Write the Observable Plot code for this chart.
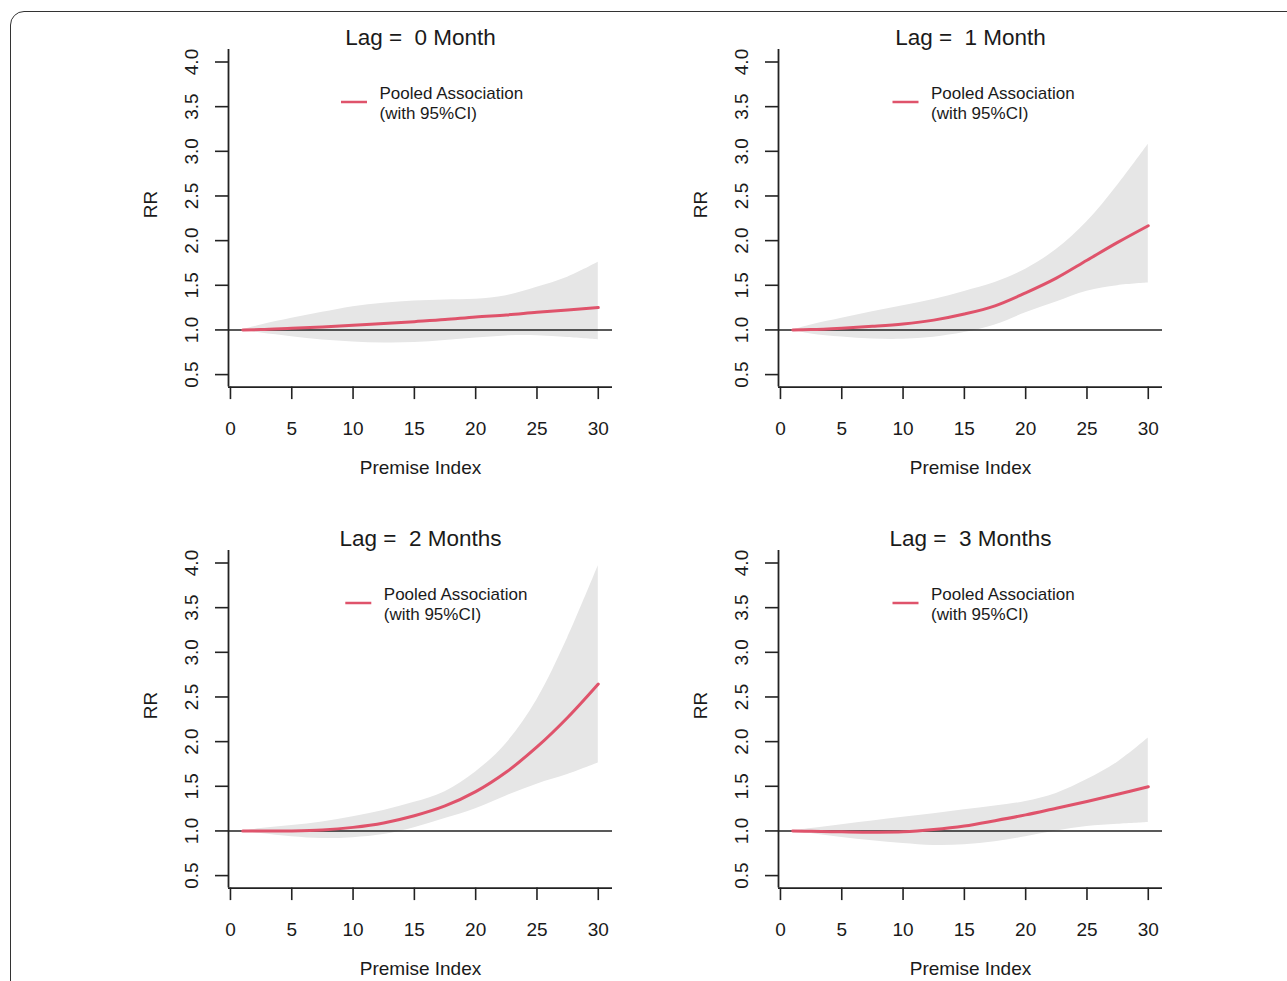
<!DOCTYPE html>
<html><head><meta charset="utf-8">
<script src="https://cdn.jsdelivr.net/npm/d3@7"></script>
<script src="https://cdn.jsdelivr.net/npm/@observablehq/plot@0.6"></script>
<style>
html,body{margin:0;padding:0;background:#fff;overflow:hidden;width:1287px;height:981px;}
#frame{position:absolute;left:10px;top:11px;width:1400px;height:1100px;border:1.3px solid #333;border-radius:14px;box-sizing:border-box;}
.panel{position:absolute;}
.panel svg text{white-space:pre;}
</style></head><body>
<div id="frame"></div>
<div id="root"></div>
<script>
// ---- data ----
const premiseIndex = [1, 2.5, 5, 7.5, 10, 12.5, 15, 17.5, 20, 22.5, 25, 27.5, 30];
const panelTitles = ["Lag =  0 Month", "Lag =  1 Month", "Lag =  2 Months", "Lag =  3 Months"];

const rrLag0    = [1.0, 1.004, 1.019, 1.034, 1.052, 1.071, 1.093, 1.116, 1.146, 1.168, 1.198, 1.224, 1.25];
const lowerLag0 = [1.0, 0.966, 0.925, 0.888, 0.866, 0.854, 0.858, 0.881, 0.910, 0.933, 0.935, 0.914, 0.888];
const upperLag0 = [1.0, 1.056, 1.131, 1.198, 1.261, 1.299, 1.325, 1.336, 1.343, 1.384, 1.478, 1.59, 1.757];

const rrLag1    = [1.0, 1.004, 1.02, 1.04, 1.066, 1.11, 1.178, 1.27, 1.415, 1.58, 1.78, 1.98, 2.167];
const lowerLag1 = [1.0, 0.955, 0.92, 0.898, 0.895, 0.919, 0.97, 1.054, 1.192, 1.314, 1.434, 1.496, 1.525];
const upperLag1 = [1.0, 1.056, 1.13, 1.204, 1.27, 1.34, 1.43, 1.53, 1.68, 1.9, 2.21, 2.62, 3.08];

const rrLag2    = [1.0, 1.0, 1.0, 1.01, 1.04, 1.09, 1.17, 1.28, 1.44, 1.66, 1.94, 2.27, 2.645];
const lowerLag2 = [1.0, 0.97, 0.935, 0.915, 0.925, 0.96, 1.037, 1.138, 1.249, 1.392, 1.524, 1.631, 1.76];
const upperLag2 = [1.0, 1.026, 1.06, 1.1, 1.16, 1.23, 1.32, 1.44, 1.66, 1.98, 2.47, 3.16, 3.97];

const rrLag3    = [1.0, 0.996, 0.99, 0.986, 0.99, 1.015, 1.055, 1.115, 1.18, 1.255, 1.33, 1.41, 1.495];
const lowerLag3 = [1.0, 0.97, 0.926, 0.889, 0.859, 0.837, 0.844, 0.878, 0.935, 1.0, 1.05, 1.075, 1.095];
const upperLag3 = [1.0, 1.026, 1.07, 1.111, 1.152, 1.193, 1.237, 1.278, 1.33, 1.42, 1.575, 1.77, 2.04];

const xTicks = [0, 5, 10, 15, 20, 25, 30];
const yTicks = [0.5, 1.0, 1.5, 2.0, 2.5, 3.0, 3.5, 4.0];
const xLabel = "Premise Index";
const yLabel = "RR";
const legendLabel = "Pooled Association\n(with 95%CI)";
const referenceRR = 1;

// ---- layout ----
const rrSeries = [rrLag0, rrLag1, rrLag2, rrLag3];
const lowerSeries = [lowerLag0, lowerLag1, lowerLag2, lowerLag3];
const upperSeries = [upperLag0, upperLag1, upperLag2, upperLag3];
const plotOrigins = [[228, 49.2], [777.5, 49.2], [228, 549.8], [777.5, 549.8]];
const legendTextDx = [151, 152.5, 155.3, 152.5];

const W = 520, H = 480, ML = 100, MT = 40, PW = 384, PH = 337.6;
const MR = W - ML - PW, MB = H - MT - PH;
const xDomain = [-0.16, 31.16], yDomain = [0.36, 4.14];
const kx = PW / (xDomain[1] - xDomain[0]);
const ky = PH / (yDomain[1] - yDomain[0]);
const FONT = "'Liberation Sans', Arial, Helvetica, sans-serif";
const RED = "#DF536B";
const INK = "#1a1a1a";

function panel(i) {
  const rows = premiseIndex.map((x, j) => ({x, rr: rrSeries[i][j], lo: lowerSeries[i][j], hi: upperSeries[i][j]}));
  const legX = legendTextDx[i];
  const lx1 = xDomain[0] + (legX - 38) / kx;
  const lx2 = xDomain[0] + (legX - 12) / kx;
  const ly = yDomain[1] - 52.5 / ky;
  return Plot.plot({
    width: W, height: H,
    marginLeft: ML, marginRight: MR, marginTop: MT, marginBottom: MB,
    style: {fontFamily: FONT, fontSize: "19px", color: INK, background: "transparent", overflow: "visible"},
    x: {domain: xDomain},
    y: {domain: yDomain},
    marks: [
      Plot.areaY(rows, {x: "x", y1: "lo", y2: "hi", fill: "#e6e6e6", curve: "catmull-rom"}),
      Plot.ruleY([referenceRR], {stroke: "#222", strokeWidth: 1.4}),
      Plot.lineY(rows, {x: "x", y: "rr", stroke: RED, strokeWidth: 3, curve: "catmull-rom"}),
      Plot.ruleX([xDomain[0]], {stroke: "#222", strokeWidth: 1.8}),
      Plot.ruleY([yDomain[0]], {stroke: "#222", strokeWidth: 1.8}),
      Plot.axisX({ticks: xTicks, tickSize: 12.5, tickPadding: 22, label: null, strokeWidth: 1.6, stroke: "#222"}),
      Plot.axisY({ticks: yTicks, tickSize: 13, tickPadding: 18, tickRotate: -90, tickFormat: d => d.toFixed(1), label: null, strokeWidth: 1.6, stroke: "#222"}),
      Plot.text([panelTitles[i]], {text: d => d, frameAnchor: "top", dy: -5, lineAnchor: "bottom", fontSize: 22.5}),
      Plot.text([xLabel], {text: d => d, frameAnchor: "bottom", dy: 87.3, lineAnchor: "bottom", fontSize: 19}),
      Plot.text([yLabel], {text: d => d, frameAnchor: "left", dx: -78, rotate: -90, lineAnchor: "middle", fontSize: 19}),
      Plot.ruleY([ly], {x1: lx1, x2: lx2, stroke: RED, strokeWidth: 2.5}),
      Plot.text([legendLabel], {text: d => d, frameAnchor: "top-left", dx: legX, dy: 69.1, textAnchor: "start", lineAnchor: "bottom", lineHeight: 1.176, fontSize: 17})
    ]
  });
}

const root = document.getElementById("root");
for (let i = 0; i < 4; i++) {
  const div = document.createElement("div");
  div.className = "panel";
  div.style.left = (plotOrigins[i][0] - ML) + "px";
  div.style.top = (plotOrigins[i][1] - MT) + "px";
  div.appendChild(panel(i));
  root.appendChild(div);
}
</script>
</body></html>
